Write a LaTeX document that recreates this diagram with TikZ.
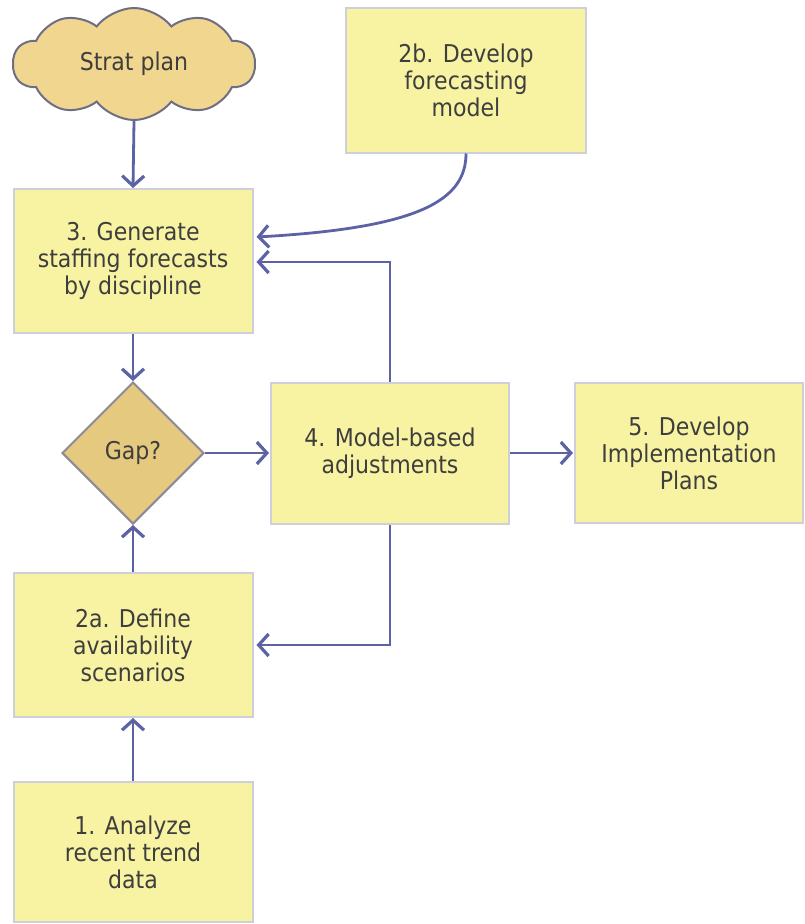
\documentclass[tikz,border=0pt]{standalone}
\usepackage{fontspec}
\setmainfont{DejaVu Sans Condensed}
\usetikzlibrary{arrows.meta,shapes.symbols,shapes.geometric}
\definecolor{boxfill}{HTML}{F8F3A2}
\definecolor{boxline}{HTML}{CFCFDA}
\definecolor{cloudfill}{HTML}{F0D68E}
\definecolor{cloudline}{HTML}{6E6E84}
\definecolor{gapfill}{HTML}{E4C97E}
\definecolor{gapline}{HTML}{8C8A98}
\definecolor{conn}{HTML}{5D62A4}
\definecolor{txt}{HTML}{3E3E3E}
\tikzset{
  lbl/.style={text=txt, font=\fontsize{24.5}{27}\selectfont},
  stepbox/.style={lbl, draw=boxline, line width=2pt, fill=boxfill, align=center, inner sep=0pt},
  conn/.style={draw=conn, line width=2.8pt,
    -{Straight Barb[length=10pt,width=22pt,line width=3.2pt]}},
}
\begin{document}
\begin{tikzpicture}[x=1pt,y=-1pt]
\useasboundingbox (0,0) rectangle (804,924);
% boxes
\node[stepbox, minimum width=240pt, minimum height=145pt] (b2b) at (466,80) {2b. Develop\\forecasting\\model};
\node[stepbox, minimum width=239pt, minimum height=144pt] (b3) at (133,261) {3. Generate\\staffing forecasts\\by discipline};
\node[stepbox, minimum width=238pt, minimum height=141pt] (b4) at (390,453) {4. Model-based\\adjustments};
\node[stepbox, minimum width=228pt, minimum height=140pt] (b5) at (689,453) {5. Develop\\Implementation\\Plans};
\node[stepbox, minimum width=239pt, minimum height=144pt] (b2a) at (133,645) {2a. Define\\availability\\scenarios};
\node[stepbox, minimum width=239pt, minimum height=140pt] (b1) at (133,852) {1. Analyze\\recent trend\\data};
% cloud
\node[cloud, cloud puffs=10, cloud puff arc=105, aspect=2.4, draw=cloudline, line width=2pt,
  fill=cloudfill, lbl, minimum width=242pt, minimum height=112pt, inner sep=0pt] (strat) at (134,64) {Strat plan};
% diamond
\node[diamond, draw=gapline, line width=2pt, fill=gapfill, lbl,
  minimum width=142pt, minimum height=142pt, inner sep=0pt] (gap) at (133,453) {Gap?};
% connectors
\coordinate (b3in1) at (b3.east |- 0,237);
\coordinate (b3in2) at (b3.east |- 0,262);
\coordinate (b2ain) at (b2a.east |- 0,645);
\draw[conn] (strat.south) -- (b3.north);
\draw[conn] (b2b.south) .. controls (466,200) and (420,228) .. ([xshift=3pt]b3in1);
\draw[conn] (b4.north) |- ([xshift=3pt]b3in2);
\draw[conn] (b3.south) -- (gap.north);
\draw[conn] (gap.east) -- ([xshift=-1pt]b4.west);
\draw[conn] (b4.east) -- ([xshift=-1pt]b5.west);
\draw[conn] (b4.south) |- ([xshift=3pt]b2ain);
\draw[conn] (b2a.north) -- (gap.south);
\draw[conn] (b1.north) -- (b2a.south);
\end{tikzpicture}
\end{document}
